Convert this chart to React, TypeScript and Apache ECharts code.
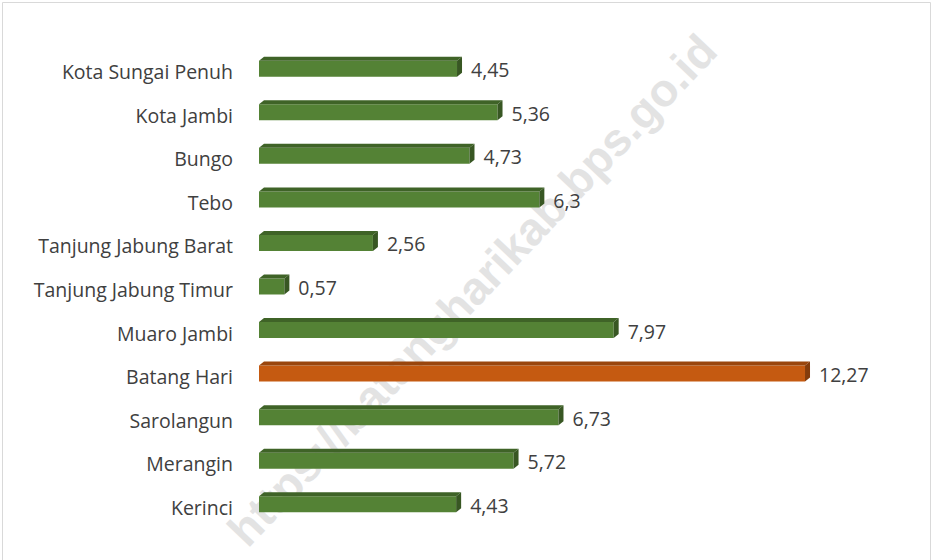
import React, { useEffect, useRef } from "react";
import * as echarts from "echarts";

const categories = [
  "Kerinci",
  "Merangin",
  "Sarolangun",
  "Batang Hari",
  "Muaro Jambi",
  "Tanjung Jabung Timur",
  "Tanjung Jabung Barat",
  "Tebo",
  "Bungo",
  "Kota Jambi",
  "Kota Sungai Penuh",
];
const values = [4.43, 5.72, 6.73, 12.27, 7.97, 0.57, 2.56, 6.3, 4.73, 5.36, 4.45];
const highlight = "Batang Hari";
const watermark = "https://batangharikab.bps.go.id";

const GREEN = { front: "#548235", top: "#3f6327", side: "#385723" };
const ORANGE = { front: "#c55a11", top: "#9a460d", side: "#843c0c" };
const FONT = "'Open Sans', 'Noto Sans', sans-serif";

export default function App() {
  const ref = useRef<HTMLDivElement>(null);
  useEffect(() => {
    document.body.style.margin = "0";
    const chart = echarts.init(ref.current!, undefined, { renderer: "svg" });
    const data = values.map((v, i) => [v, i]);
    chart.setOption({
      animation: false,
      backgroundColor: "#ffffff",
      graphic: [
        {
          type: "rect",
          z: -10,
          shape: { x: 2.5, y: 2.5, width: 928, height: 580 },
          style: { fill: "none", stroke: "#d9d9d9", lineWidth: 1 },
        },
        {
          type: "text",
          z: -5,
          x: 472,
          y: 290,
          rotation: 0.81,
          style: {
            text: watermark,
            fill: "#e3e3e3",
            font: "bold 46px 'Liberation Sans', Arial, sans-serif",
            align: "center",
            verticalAlign: "middle",
          },
        },
      ],
      grid: { left: 259, right: 51, top: 45, bottom: 36 },
      xAxis: { type: "value", min: 0, max: 14, show: false },
      yAxis: {
        type: "category",
        data: categories,
        axisLine: { show: false },
        axisTick: { show: false },
        axisLabel: { show: false },
      },
      series: [
        {
          type: "custom",
          z: 5,
          data,
          encode: { x: 0, y: 1 },
          renderItem: (params: any, api: any) => {
            const v = api.value(0);
            const idx = api.value(1);
            const p0 = api.coord([0, idx]);
            const p1 = api.coord([v, idx]);
            const x0 = p0[0];
            const x1 = p1[0];
            const c = p0[1];
            const d = 5;
            const col = categories[idx] === highlight ? ORANGE : GREEN;
            const label = String(v).replace(".", ",");
            return {
              type: "group",
              children: [
                {
                  type: "rect",
                  shape: { x: x0, y: c - 6, width: x1 - x0, height: 16 },
                  style: { fill: col.front },
                },
                {
                  type: "polygon",
                  shape: {
                    points: [
                      [x0, c - 6],
                      [x0 + d, c - 10],
                      [x1 + d, c - 10],
                      [x1, c - 6],
                    ],
                  },
                  style: { fill: col.top },
                },
                {
                  type: "polygon",
                  shape: {
                    points: [
                      [x1, c - 6],
                      [x1 + d, c - 10],
                      [x1 + d, c + 6],
                      [x1, c + 10],
                    ],
                  },
                  style: { fill: col.side },
                },
                {
                  type: "text",
                  x: x1 + d + 9,
                  y: c + 3,
                  style: {
                    text: label,
                    fill: "#404040",
                    font: "19.5px " + FONT,
                    verticalAlign: "middle",
                    align: "left",
                  },
                },
                {
                  type: "text",
                  x: x0 - 26,
                  y: c + 5,
                  style: {
                    text: categories[idx],
                    fill: "#404040",
                    font: "19.5px " + FONT,
                    verticalAlign: "middle",
                    align: "right",
                  },
                },
              ],
            };
          },
        },
      ],
    });
    return () => chart.dispose();
  }, []);
  return <div ref={ref} style={{ width: 933, height: 560 }} />;
}
